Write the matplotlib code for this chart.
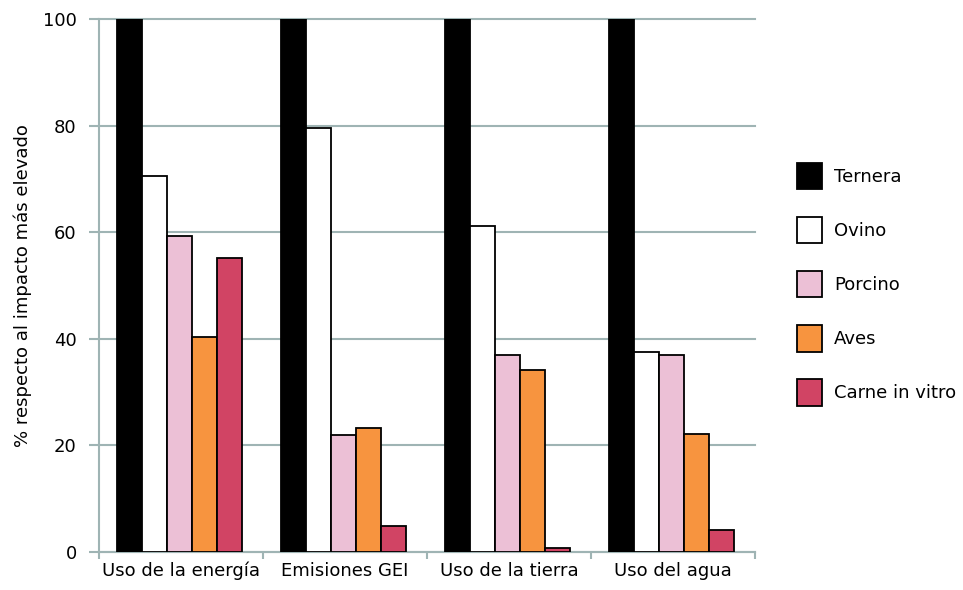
import matplotlib.pyplot as plt
import numpy as np

categories = ['Uso de la energía', 'Emisiones GEI', 'Uso de la tierra', 'Uso del agua']
series_names = ['Ternera', 'Ovino', 'Porcino', 'Aves', 'Carne in vitro']
ternera = [100, 100, 100, 100]
ovino = [70.5, 79.5, 61.2, 37.6]
porcino = [59.3, 22.0, 37.0, 37.0]
aves = [40.3, 23.3, 34.1, 22.1]
carne_vitro = [55.2, 4.8, 0.7, 4.1]
colors = ['#000000', '#ffffff', '#ecc0d6', '#f7943f', '#d14464']
yticks = [0, 20, 40, 60, 80, 100]

grid_col = '#9fb4b4'
fs = 13

fig = plt.figure(figsize=(9.63, 5.90), dpi=100)
ax = fig.add_axes([99/963, 1-552/590, 656/963, 533/590])

x = np.arange(len(categories))
width = 0.152
offset = 0.11
all_series = [ternera, ovino, porcino, aves, carne_vitro]
for i, (name, vals, c) in enumerate(zip(series_names, all_series, colors)):
    ax.bar(x + offset + width * (i + 0.5), vals, width, color=c, edgecolor='black',
           linewidth=1.3, label=name, zorder=3)

ax.set_xlim(0, 4)
ax.set_ylim(0, 100)
ax.set_yticks(yticks)
ax.set_yticklabels([str(v) for v in yticks], fontsize=fs)
ax.yaxis.grid(True, color=grid_col, linewidth=1.5, zorder=0)
ax.set_axisbelow(True)
for gl in ax.get_ygridlines():
    gl.set_clip_on(False)

ax.set_xticks(np.arange(0, 5))
ax.set_xticklabels([])
ax.set_xticks(x + 0.5, minor=True)
ax.set_xticklabels(categories, minor=True, fontsize=fs)
ax.tick_params(axis='x', which='minor', length=0, pad=7)
ax.tick_params(axis='x', which='major', length=5, color=grid_col, width=1.5)
ax.tick_params(axis='y', length=7, color=grid_col, width=1.5, pad=9)

for s in ['top', 'right']:
    ax.spines[s].set_visible(False)
for s in ['left', 'bottom']:
    ax.spines[s].set_color(grid_col)
    ax.spines[s].set_linewidth(1.5)

ax.set_ylabel('% respecto al impacto más elevado', fontsize=fs, labelpad=8)

fig.legend(loc='upper left', bbox_to_anchor=(797/963, 1-163/590), frameon=False,
           fontsize=fs, handlelength=1.4, handleheight=1.85, handletextpad=0.65,
           labelspacing=1.55, borderpad=0, borderaxespad=0)

plt.savefig('out.png', dpi=100)
plt.close()
